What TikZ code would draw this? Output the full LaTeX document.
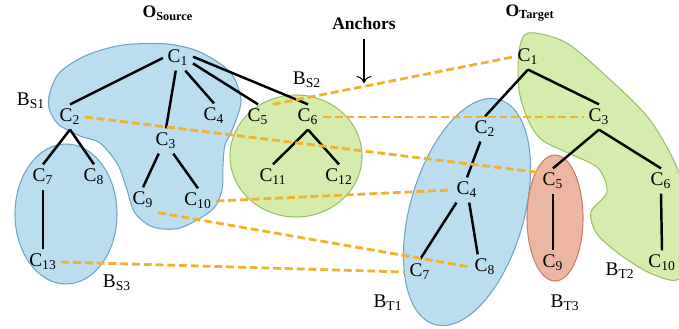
\documentclass[tikz,border=0pt]{standalone}
\usepackage{fontspec}
\setmainfont{Liberation Serif}
\usetikzlibrary{arrows.meta}
\usepackage{xcolor}
\definecolor{bsblue}{HTML}{BADDF0}
\definecolor{bsblueline}{HTML}{6FA6C2}
\definecolor{bsgreen}{HTML}{D5ECAD}
\definecolor{bsgreenline}{HTML}{98C266}
\definecolor{bsred}{HTML}{EDB6A3}
\definecolor{bsredline}{HTML}{C47F69}
\definecolor{anchororange}{HTML}{F2B130}
\newcommand{\cname}[1]{C\textsubscript{#1}}
\newcommand{\bname}[1]{B\textsubscript{#1}}

\begin{document}
\begin{tikzpicture}[x=0.02cm, y=-0.02cm,
    cls/.style={inner sep=2.5pt, font=\fontsize{11}{12}\selectfont},
    blk/.style={inner sep=1pt, font=\fontsize{11}{12}\selectfont},
    ttl/.style={inner sep=1pt, font=\fontsize{10}{12}\selectfont\bfseries},
    edge/.style={line width=1.4pt, black},
    anchorline/.style={line width=1.6pt, anchororange, dash pattern=on 4.5pt off 2.2pt}]
    \useasboundingbox (0,0) rectangle (679,328);

    % blocks
    \filldraw[fill=bsblue, draw=bsblueline, line width=0.6pt] plot[smooth cycle] coordinates
      {(50,92) (60,72) (87,55) (123,45) (167,44) (200,52) (230,72) (241,100) (233,128)
       (225,145) (223,165) (222,190) (212,210) (180,228) (153,227) (135,213) (127,190)
       (118,165) (100,143) (80,136) (58,124) (49,108)};
    \filldraw[fill=bsblue, draw=bsblueline, line width=0.6pt] (66,214) ellipse [x radius=51, y radius=70];
    \filldraw[fill=bsgreen, draw=bsgreenline, line width=0.6pt] (296,156) ellipse [x radius=66, y radius=61];
    \filldraw[fill=bsblue, draw=bsblueline, line width=0.6pt, rotate around={74:(467,212)}]
      (467,212) ellipse [x radius=117, y radius=57];
    \filldraw[fill=bsgreen, draw=bsgreenline, line width=0.6pt] plot[smooth cycle] coordinates
      {(528,33) (519,52) (519,90) (528,120) (542,140) (568,153) (598,168) (607,192)
       (591,212) (597,234) (622,256) (652,274) (680,278) (690,230) (680,175) (650,120)
       (605,75) (565,42)};
    \filldraw[fill=bsred, draw=bsredline, line width=0.6pt] (555,218) ellipse [x radius=28, y radius=63];

    % source ontology
    \node[ttl] (osrc) at (168,13) {O\textsubscript{Source}};
    \node[cls] (s1) at (178,58) {\cname{1}};
    \node[cls] (s2) at (70,117) {\cname{2}};
    \node[cls] (s3) at (166,141) {\cname{3}};
    \node[cls] (s4) at (214,116) {\cname{4}};
    \node[cls] (s5) at (258,117) {\cname{5}};
    \node[cls] (s6) at (308,117) {\cname{6}};
    \node[cls] (s7) at (43,177) {\cname{7}};
    \node[cls] (s8) at (94,177) {\cname{8}};
    \node[cls] (s9) at (143,200) {\cname{9}};
    \node[cls] (s10) at (198,201) {\cname{10}};
    \node[cls] (s11) at (273,177) {\cname{11}};
    \node[cls] (s12) at (339,177) {\cname{12}};
    \node[cls] (s13) at (43,262) {\cname{13}};
    \node[blk] (bs1) at (31,101) {\bname{S1}};
    \node[blk] (bs2) at (307,80) {\bname{S2}};
    \node[blk] (bs3) at (117,283) {\bname{S3}};

    % target ontology
    \node[ttl] (otgt) at (530,13) {O\textsubscript{Target}};
    \node[cls] (t1) at (528,57) {\cname{1}};
    \node[cls] (t2) at (485,129) {\cname{2}};
    \node[cls] (t3) at (599,117) {\cname{3}};
    \node[cls] (t4) at (467,190) {\cname{4}};
    \node[cls] (t5) at (553,181) {\cname{5}};
    \node[cls] (t6) at (661,181) {\cname{6}};
    \node[cls] (t7) at (420,272) {\cname{7}};
    \node[cls] (t8) at (485,267) {\cname{8}};
    \node[cls] (t9) at (553,263) {\cname{9}};
    \node[cls] (t10) at (662,263) {\cname{10}};
    \node[blk] (bt1) at (388,303) {\bname{T1}};
    \node[blk] (bt2) at (620,271) {\bname{T2}};
    \node[blk] (bt3) at (565,303) {\bname{T3}};

    \draw[edge] (s1.180) -- (s2.north);
    \draw[edge] (s1.-100) -- (s3.north);
    \draw[edge] (s1.-60) -- (s4.north);
    \draw[edge] (s1.-20) -- (s5.north);
    \draw[edge] (s1.5) -- (s6.north);
    \draw[edge] (s2.south) -- (s7.north);
    \draw[edge] (s2.south) -- (s8.north);
    \draw[edge] (s3.-120) -- (s9.north);
    \draw[edge] (s3.-60) -- (s10.north);
    \draw[edge] (s6.south) -- (s11.north);
    \draw[edge] (s6.south) -- (s12.north);
    \draw[edge] (s7.south) -- (s13.north);

    \draw[edge] (t1.south) -- (t2.north);
    \draw[edge] (t1.south) -- (t3.north);
    \draw[edge] (t2.-110) -- (t4.north);
    \draw[edge] (t3.south) -- (t5.north);
    \draw[edge] (t3.south) -- (t6.north);
    \draw[edge] (t4.-130) -- (t7.north);
    \draw[edge] (t4.-80) -- (t8.120);
    \draw[edge] (t5.south) -- (t9.north);
    \draw[edge] (t6.south) -- (t10.north);

    % anchors
    \draw[anchorline] (s5.north east) -- (t1.west);
    \draw[anchorline] (s6.east) -- (t3.west);
    \draw[anchorline] (s2.east) -- (t5.150);
    \draw[anchorline] (s10.east) -- (t4.west);
    \draw[anchorline] (s9.south east) -- (t8.west);
    \draw[anchorline] (s13.east) -- (t7.west);

    \node[ttl] (anchors) at (364,23) {Anchors};
    \coordinate (anchortip) at (364,83);
    \draw[-{To[length=4pt]}, line width=0.6pt] (anchors.south) ++(0,8) -- (anchortip);
\end{tikzpicture}
\end{document}
